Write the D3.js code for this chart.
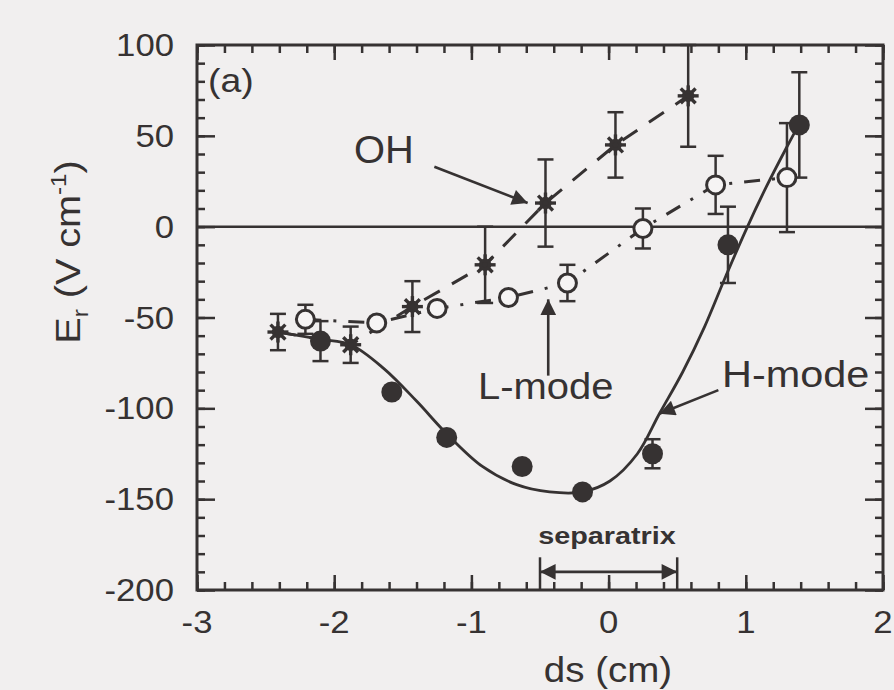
<!DOCTYPE html>
<html>
<head>
<meta charset="utf-8">
<script src="https://cdn.jsdelivr.net/npm/d3@7"></script>
<style>
  html, body { margin: 0; padding: 0; background: #f1efef; }
  svg text { font-family: "Liberation Sans", Arial, sans-serif; }
</style>
</head>
<body>
<div id="chart"></div>
<script>
// values (ds in cm, Er in V/cm)
var xTicks = [-3, -2, -1, 0, 1, 2];
var xTickLabels = ["-3", "-2", "-1", "0", "1", "2"];
var yTicks = [100, 50, 0, -50, -100, -150, -200];
var yTickLabels = ["100", "50", "0", "-50", "-100", "-150", "-200"];

// OH (asterisks, dashed)
var ohX = [-2.41, -1.88, -1.43, -0.90, -0.46, 0.05, 0.58];
var ohY = [-58, -65, -44, -21, 13, 45, 72];
var ohErr = [10, 10, 14, 21, 24, 18, 28];

// L-mode (open circles, dash-dot)
var lX = [-2.21, -1.69, -1.25, -0.73, -0.30, 0.25, 0.78, 1.30];
var lY = [-51, -53, -45, -39, -31, -1, 23, 27];
var lErr = [8, 0, 0, 0, 10, 11, 16, 30];

// H-mode (filled circles) and its fitted curve
var hX = [-2.10, -1.58, -1.18, -0.63, -0.19, 0.32, 0.87, 1.39];
var hY = [-63, -91, -116, -132, -146, -125, -10, 56];
var hErr = [11, 0, 0, 0, 0, 8, 21, 29];
var fitX = [-2.41, -2.10, -1.88, -1.64, -1.40, -1.18, -0.92, -0.67, -0.43, -0.19, 0.01, 0.21, 0.37, 0.54, 0.70, 0.85, 1.00, 1.15, 1.30, 1.40];
var fitY = [-58, -62, -65, -78, -96, -114, -132, -142, -146, -146, -140, -125, -103, -80, -55, -28, -2, 22, 44, 58];

var sepRange = [-0.5, 0.5];

var width = 894,
    height = 690,
    ink = "#363232";

var svg = d3.select("#chart").append("svg")
    .attr("width", width)
    .attr("height", height);

svg.append("rect")
    .attr("width", width)
    .attr("height", height)
    .attr("fill", "#f1efef");

var x = d3.scaleLinear().domain([-3, 2]).range([197, 883]);
var y = d3.scaleLinear().domain([-200, 100]).range([590, 45]);

function zip(a, b, e) {
    return a.map(function(d, i) { return {x: d, y: b[i], e: e ? e[i] : 0}; });
}
var oh = zip(ohX, ohY, ohErr),
    lm = zip(lX, lY, lErr),
    hm = zip(hX, hY, hErr),
    fit = zip(fitX, fitY);

// stretched text helper (the scanned font is wide)
function stext(g, px, py, s, size, anchor, sx, weight) {
    return g.append("text")
        .attr("transform", "translate(" + px + "," + py + ") scale(" + sx + ",1)")
        .attr("text-anchor", anchor)
        .attr("font-size", size)
        .attr("font-weight", weight || "normal")
        .attr("fill", ink)
        .text(s);
}

// axes with inward ticks on all four sides
function drawAxis(axis, tx, ty) {
    var g = svg.append("g")
        .attr("transform", "translate(" + tx + "," + ty + ")")
        .call(axis);
    g.select(".domain").remove();
    g.selectAll("line").attr("stroke", ink).attr("stroke-width", 2.5);
    g.selectAll("text").remove();
}
var xMinor = d3.range(-3, 2.001, 0.2);
var yMinor = d3.range(-200, 100.1, 10);

drawAxis(d3.axisBottom(x).tickValues(xMinor).tickSize(-8), 0, y(-200));
drawAxis(d3.axisBottom(x).tickValues(xTicks).tickSize(-15), 0, y(-200));
drawAxis(d3.axisTop(x).tickValues(xMinor).tickSize(-8), 0, y(100));
drawAxis(d3.axisTop(x).tickValues(xTicks).tickSize(-15), 0, y(100));
drawAxis(d3.axisLeft(y).tickValues(yMinor).tickSize(-8), x(-3), 0);
drawAxis(d3.axisLeft(y).tickValues(yTicks).tickSize(-18), x(-3), 0);
drawAxis(d3.axisRight(y).tickValues(yMinor).tickSize(-8), x(2), 0);
drawAxis(d3.axisRight(y).tickValues(yTicks).tickSize(-18), x(2), 0);

svg.append("rect")
    .attr("x", x(-3))
    .attr("y", y(100))
    .attr("width", x(2) - x(-3))
    .attr("height", y(-200) - y(100))
    .attr("fill", "none")
    .attr("stroke", ink)
    .attr("stroke-width", 3);

// zero line
svg.append("line")
    .attr("x1", x(-3)).attr("x2", x(2))
    .attr("y1", y(0)).attr("y2", y(0))
    .attr("stroke", ink)
    .attr("stroke-width", 2.5);

// tick labels
var labels = svg.append("g");
xTicks.forEach(function(d, i) {
    stext(labels, x(d), 633, xTickLabels[i], 31, "middle", 1.12);
});
yTicks.forEach(function(d, i) {
    stext(labels, 174, y(d) + 11, yTickLabels[i], 31, "end", 1.12);
});

// axis titles
stext(svg, 608, 682, "ds (cm)", 35, "middle", 1.1);
var yl = svg.append("text")
    .attr("transform", "translate(80,252) rotate(-90) scale(1.1,1)")
    .attr("text-anchor", "middle")
    .attr("font-size", 36)
    .attr("fill", ink);
yl.append("tspan").text("E");
yl.append("tspan").attr("font-size", 22).attr("dy", 8).text("r");
yl.append("tspan").attr("dy", -8).text(" (V cm");
yl.append("tspan").attr("font-size", 22).attr("dy", -14).text("-1");
yl.append("tspan").attr("dy", 14).text(")");

// lines
var line = d3.line().x(function(d) { return x(d.x); }).y(function(d) { return y(d.y); });

svg.append("path").datum(oh)
    .attr("d", line)
    .attr("fill", "none").attr("stroke", ink).attr("stroke-width", 3)
    .attr("stroke-dasharray", "18,14");

svg.append("path").datum(lm)
    .attr("d", line)
    .attr("fill", "none").attr("stroke", ink).attr("stroke-width", 3)
    .attr("stroke-dasharray", "16,12,3,12");

svg.append("path").datum(fit)
    .attr("d", line.curve(d3.curveCatmullRom))
    .attr("fill", "none").attr("stroke", ink).attr("stroke-width", 2.8);

// error bars
function errorBars(data) {
    var g = svg.append("g").attr("stroke", ink).attr("stroke-width", 2.5);
    data.filter(function(d) { return d.e > 0; }).forEach(function(d) {
        var cx = x(d.x), y1 = y(d.y + d.e), y2 = y(d.y - d.e);
        g.append("line").attr("x1", cx).attr("x2", cx).attr("y1", y1).attr("y2", y2);
        g.append("line").attr("x1", cx - 8).attr("x2", cx + 8).attr("y1", y1).attr("y2", y1);
        g.append("line").attr("x1", cx - 8).attr("x2", cx + 8).attr("y1", y2).attr("y2", y2);
    });
}
errorBars(oh);
errorBars(lm);
errorBars(hm);

// markers
var ohG = svg.append("g").attr("stroke", ink).attr("stroke-width", 3.4);
oh.forEach(function(d) {
    var cx = x(d.x), cy = y(d.y), r = 10.5;
    [0, 45, 90, 135].forEach(function(a) {
        var t = a * Math.PI / 180;
        ohG.append("line")
            .attr("x1", cx - r * Math.cos(t)).attr("y1", cy - r * Math.sin(t))
            .attr("x2", cx + r * Math.cos(t)).attr("y2", cy + r * Math.sin(t));
    });
    ohG.append("circle").attr("cx", cx).attr("cy", cy).attr("r", 4.5).attr("fill", ink);
});

svg.append("g").selectAll("circle")
    .data(lm).enter().append("circle")
    .attr("cx", function(d) { return x(d.x); })
    .attr("cy", function(d) { return y(d.y); })
    .attr("r", 9)
    .attr("fill", "#f6f4f4")
    .attr("stroke", ink)
    .attr("stroke-width", 3);

svg.append("g").selectAll("circle")
    .data(hm).enter().append("circle")
    .attr("cx", function(d) { return x(d.x); })
    .attr("cy", function(d) { return y(d.y); })
    .attr("r", 10.5)
    .attr("fill", ink);

// annotations
svg.append("defs").append("marker")
    .attr("id", "head")
    .attr("viewBox", "0 0 10 10")
    .attr("refX", 10).attr("refY", 5)
    .attr("markerWidth", 9).attr("markerHeight", 6)
    .attr("markerUnits", "strokeWidth")
    .attr("orient", "auto-start-reverse")
    .append("path")
    .attr("d", "M0,0 L10,5 L0,10 Z")
    .attr("fill", ink);

function arrow(x1, y1, x2, y2, both) {
    var a = svg.append("line")
        .attr("x1", x(x1)).attr("y1", y(y1))
        .attr("x2", x(x2)).attr("y2", y(y2))
        .attr("stroke", ink).attr("stroke-width", 2.6)
        .attr("marker-end", "url(#head)");
    if (both) a.attr("marker-start", "url(#head)");
}

arrow(-1.27, 33, -0.59, 13);
arrow(-0.44, -82, -0.44, -40);
arrow(0.80, -90, 0.37, -103);
arrow(sepRange[0], -190, sepRange[1], -190, true);
sepRange.forEach(function(d) {
    svg.append("line")
        .attr("x1", x(d)).attr("x2", x(d))
        .attr("y1", y(-182)).attr("y2", y(-200))
        .attr("stroke", ink).attr("stroke-width", 2.5);
});

stext(svg, 208, 92, "(a)", 34, "start", 1.1);
stext(svg, 384, 163, "OH", 38, "middle", 1.05);
stext(svg, 478, 399, "L-mode", 37, "start", 1.08);
stext(svg, 722, 387, "H-mode", 37, "start", 1.12);
stext(svg, 607, 544, "separatrix", 24, "middle", 1.2, "bold");
</script>
</body>
</html>
